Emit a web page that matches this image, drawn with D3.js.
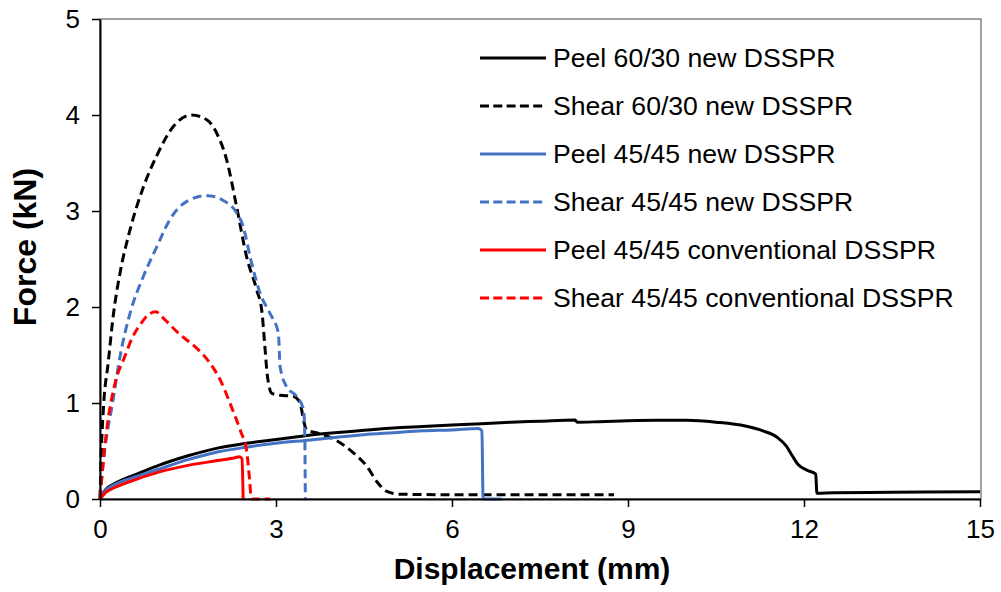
<!DOCTYPE html>
<html>
<head>
<meta charset="utf-8">
<script src="https://cdn.jsdelivr.net/npm/d3@7"></script>
<style>
  html, body { margin: 0; padding: 0; background: #fff; }
  svg { display: block; font-family: "Liberation Sans", Arial, sans-serif; }
</style>
</head>
<body>
<div id="chart"></div>
<script>
// ── Data: [displacement (mm), force (kN)] ──
const peel6030New = [
  [0, 0], [0.1, 0.1], [0.25, 0.16], [0.5, 0.23], [0.75, 0.29], [1, 0.35], [1.5, 0.45],
  [2, 0.53], [2.5, 0.58], [3, 0.62], [3.5, 0.66], [4, 0.69], [4.5, 0.715], [5, 0.74],
  [5.5, 0.755], [6, 0.77], [6.5, 0.785], [7, 0.80], [7.5, 0.81], [8.1, 0.822], [8.13, 0.80],
  [8.5, 0.805], [9, 0.815], [9.5, 0.82], [10, 0.82], [10.5, 0.80], [11, 0.76], [11.3, 0.71],
  [11.55, 0.64], [11.7, 0.55], [11.8, 0.45], [11.9, 0.36], [12.05, 0.30], [12.2, 0.26],
  [12.22, 0.06], [12.5, 0.065], [13.5, 0.07], [15, 0.075]
];
const shear6030New = [
  [0, 0], [0.02, 0.45], [0.06, 0.96], [0.14, 1.42], [0.23, 1.93], [0.34, 2.35], [0.51, 2.80],
  [0.74, 3.25], [0.97, 3.58], [1.25, 3.88], [1.56, 4.0], [1.82, 3.95], [1.99, 3.81],
  [2.16, 3.53], [2.33, 3.04], [2.5, 2.52], [2.67, 2.18], [2.76, 1.95], [2.81, 1.59],
  [2.85, 1.3], [2.93, 1.10], [3.07, 1.08], [3.29, 1.07], [3.41, 1.0], [3.47, 0.82],
  [3.52, 0.72], [3.69, 0.69], [4.03, 0.61], [4.32, 0.48], [4.55, 0.34], [4.72, 0.18],
  [4.89, 0.08], [5.11, 0.05], [6, 0.045], [7, 0.045], [8.76, 0.045]
];
const peel4545New = [
  [0, 0], [0.1, 0.09], [0.25, 0.15], [0.5, 0.21], [1, 0.31], [1.5, 0.41], [2, 0.49],
  [2.5, 0.54], [3, 0.58], [3.5, 0.61], [4, 0.64], [4.5, 0.67], [5, 0.69], [5.5, 0.71],
  [6, 0.72], [6.45, 0.735], [6.51, 0.71], [6.53, 0], [6.85, 0]
];
const shear4545New = [
  [0, 0], [0.05, 0.35], [0.12, 0.68], [0.2, 0.95], [0.34, 1.48], [0.51, 1.93], [0.74, 2.32],
  [0.97, 2.63], [1.19, 2.91], [1.48, 3.10], [1.82, 3.16], [2.1, 3.11], [2.33, 2.98],
  [2.44, 2.84], [2.56, 2.52], [2.73, 2.14], [2.9, 1.93], [3.04, 1.73], [3.07, 1.38],
  [3.18, 1.17], [3.35, 1.07], [3.47, 0.93], [3.49, 0.69], [3.5, 0]
];
const peel4545Conv = [
  [0, 0], [0.1, 0.07], [0.25, 0.12], [0.5, 0.18], [1, 0.28], [1.5, 0.35], [2, 0.40],
  [2.3, 0.43], [2.38, 0.44], [2.42, 0.42], [2.44, 0]
];
const shear4545Conv = [
  [0, 0], [0.05, 0.35], [0.12, 0.75], [0.2, 1.05], [0.3, 1.3], [0.4, 1.45], [0.55, 1.68],
  [0.7, 1.83], [0.85, 1.93], [0.95, 1.95], [1.1, 1.87], [1.35, 1.72], [1.65, 1.57],
  [1.87, 1.42], [2.05, 1.24], [2.24, 0.96], [2.4, 0.7], [2.5, 0.5], [2.55, 0.2],
  [2.58, 0], [2.9, 0]
];

const xTicks = [0, 3, 6, 9, 12, 15];
const yTicks = [0, 1, 2, 3, 4, 5];

const SERIES = [
  { label: 'Peel 60/30 new DSSPR',          data: peel6030New,   color: '#000000', dashed: false },
  { label: 'Shear 60/30 new DSSPR',         data: shear6030New,  color: '#000000', dashed: true },
  { label: 'Peel 45/45 new DSSPR',          data: peel4545New,   color: '#4472C4', dashed: false },
  { label: 'Shear 45/45 new DSSPR',         data: shear4545New,  color: '#4472C4', dashed: true },
  { label: 'Peel 45/45 conventional DSSPR', data: peel4545Conv,  color: '#FF0000', dashed: false },
  { label: 'Shear 45/45 conventional DSSPR',data: shear4545Conv, color: '#FF0000', dashed: true }
];

const totalW = 1001, totalH = 592;
const margin = { top: 19, right: 21, bottom: 93, left: 100 };
const width = totalW - margin.left - margin.right;
const height = totalH - margin.top - margin.bottom;

const svg = d3.select('#chart').append('svg')
  .attr('width', totalW)
  .attr('height', totalH);

const g = svg.append('g')
  .attr('transform', `translate(${margin.left},${margin.top})`);

// ── Scales ──────────────────────────────────────────────────
const x = d3.scaleLinear().domain([0, 15]).range([0, width]);
const y = d3.scaleLinear().domain([0, 5]).range([height, 0]);

// thin plot border
g.append('rect')
  .attr('x', 0).attr('y', 0)
  .attr('width', x(15) + 1).attr('height', height)
  .attr('fill', 'none')
  .attr('stroke', '#444').attr('stroke-width', 1);

// ── Curves ──────────────────────────────────────────────────
const line = d3.line()
  .x(d => x(d[0]))
  .y(d => y(d[1]))
  .curve(d3.curveMonotoneX);

SERIES.forEach(s => {
  g.append('path')
    .datum(s.data)
    .attr('fill', 'none')
    .attr('stroke', s.color)
    .attr('stroke-width', 3)
    .attr('stroke-linejoin', 'round')
    .attr('stroke-dasharray', s.dashed ? '9 5' : null)
    .attr('d', line);
});

// ── Axes ────────────────────────────────────────────────────
const xAxis = g.append('g')
  .attr('transform', `translate(0,${height})`)
  .call(d3.axisBottom(x).tickValues(xTicks).tickFormat(d3.format('d'))
    .tickSize(8).tickPadding(13).tickSizeOuter(0));

const yAxis = g.append('g')
  .call(d3.axisLeft(y).tickValues(yTicks).tickFormat(d3.format('d'))
    .tickSize(8).tickPadding(12).tickSizeOuter(0));

[xAxis, yAxis].forEach(ax => {
  ax.select('.domain').attr('stroke', '#000').attr('stroke-width', 2);
  ax.selectAll('.tick line').attr('stroke', '#000').attr('stroke-width', 1.5);
  ax.selectAll('.tick text')
    .attr('fill', '#000')
    .attr('font-size', '26px')
    .attr('font-family', '"Liberation Sans", Arial, sans-serif');
});

// axis titles
svg.append('text')
  .attr('x', 532).attr('y', 579)
  .attr('text-anchor', 'middle')
  .attr('font-size', '30px').attr('font-weight', 'bold')
  .text('Displacement (mm)');

svg.append('text')
  .attr('transform', 'translate(36,247) rotate(-90)')
  .attr('text-anchor', 'middle')
  .attr('font-size', '32px').attr('font-weight', 'bold')
  .text('Force (kN)');

// ── Legend ──────────────────────────────────────────────────
const legend = svg.append('g').attr('transform', 'translate(480,58)');
SERIES.forEach((s, i) => {
  const row = legend.append('g').attr('transform', `translate(0,${i * 48})`);
  row.append('line')
    .attr('x1', 0).attr('x2', 66).attr('y1', 0).attr('y2', 0)
    .attr('stroke', s.color).attr('stroke-width', 3)
    .attr('stroke-dasharray', s.dashed ? '9 4.3' : null);
  row.append('text')
    .attr('x', 73).attr('y', 9)
    .attr('font-size', '26.6px')
    .attr('fill', '#000')
    .text(s.label);
});
</script>
</body>
</html>
